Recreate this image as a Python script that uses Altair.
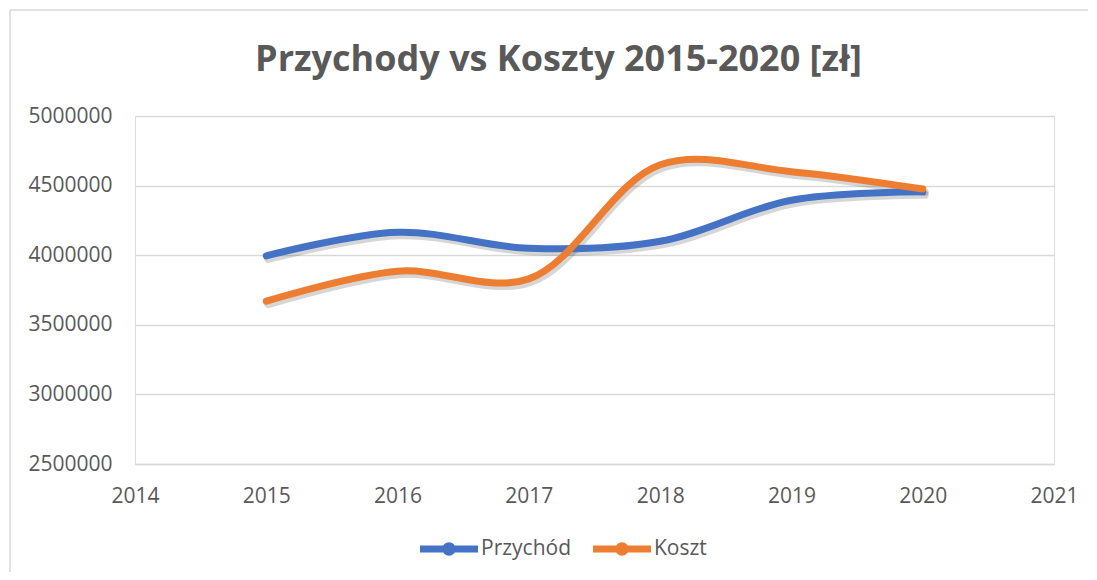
import altair as alt
import pandas as pd

years = [2015, 2016, 2017, 2018, 2019, 2020]
przychod = [3995000, 4165000, 4050000, 4100000, 4395000, 4455000]
koszt = [3670000, 3885000, 3830000, 4650000, 4600000, 4475000]
series = ["Przychód", "Koszt"]
colors = ["#4472C4", "#ED7D31"]
y_ticks = [2500000, 3000000, 3500000, 4000000, 4500000, 5000000]
x_ticks = [2014, 2015, 2016, 2017, 2018, 2019, 2020, 2021]

rows = []
for name, vals in zip(series, [przychod, koszt]):
    for yr, v in zip(years, vals):
        rows.append({"Rok": yr, "Wartość": v, "Seria": name})
df = pd.DataFrame(rows)

FONT = "Open Sans"
GREY = "#595959"
GRID = "#d9d9d9"

legend_path = ("M-1,-0.12 L1,-0.12 L1,0.12 L-1,0.12 Z "
               "M0.23,0 A0.23,0.23 0 1 1 -0.23,0 A0.23,0.23 0 1 1 0.23,0 Z")

x_enc = alt.X("Rok:Q",
              scale=alt.Scale(domain=[2014, 2021], nice=False, zero=False),
              axis=alt.Axis(values=x_ticks, format="d", title=None, grid=False,
                            domain=True, domainColor=GRID, domainWidth=1.5,
                            ticks=False, labelPadding=21, labelFontSize=21,
                            labelFlush=False, labelOverlap=False,
                            labelColor=GREY, labelFont=FONT))
y_enc = alt.Y("Wartość:Q",
              scale=alt.Scale(domain=[2500000, 5000000], nice=False, zero=False),
              axis=alt.Axis(values=y_ticks, format="d", title=None, grid=True,
                            gridColor=GRID, gridWidth=1.5, domain=False,
                            ticks=False, labelPadding=23, labelFontSize=21,
                            labelColor=GREY, labelFont=FONT))

one = pd.DataFrame({"a": [0]})
border_top = alt.Chart(one).mark_rule(color=GRID, strokeWidth=1.5).encode(
    x=alt.value(-125), x2=alt.value(953), y=alt.value(-106))
border_left = alt.Chart(one).mark_rule(color=GRID, strokeWidth=1.5).encode(
    x=alt.value(-125), y=alt.value(-106), y2=alt.value(480))

shadow = alt.Chart(df).mark_line(
    interpolate="catmull-rom", strokeWidth=8, color="#000000", opacity=0.16,
    xOffset=2, yOffset=3, strokeCap="round"
).encode(x=x_enc, y=y_enc, detail="Seria:N")

lines = alt.Chart(df).mark_line(
    interpolate="catmull-rom", strokeWidth=7, strokeCap="round"
).encode(
    x=x_enc, y=y_enc,
    stroke=alt.Stroke("Seria:N", scale=alt.Scale(domain=series, range=colors),
                      legend=None),
    order=alt.Order("Rok:Q"),
)

pts = alt.Chart(df).mark_point(filled=True, size=0, shape=legend_path).encode(
    x=x_enc, y=y_enc,
    color=alt.Color("Seria:N", scale=alt.Scale(domain=series, range=colors),
                    legend=alt.Legend(title=None, orient="none", direction="horizontal",
                                      legendX=285, legendY=404,
                                      symbolType=legend_path, symbolSize=3364,
                                      symbolStrokeWidth=0, symbolOpacity=1,
                                      labelFont=FONT, labelFontSize=21,
                                      labelColor=GREY, labelOffset=3,
                                      columnPadding=22, padding=0)),
)

chart = alt.layer(border_top, border_left, shadow, lines, pts).properties(
    width=919, height=348,
    title=alt.TitleParams("Przychody vs Koszty 2015-2020 [zł]", font=FONT,
                          fontSize=36, fontWeight="bold", color=GREY,
                          anchor="middle", baseline="alphabetic",
                          dx=-36, dy=98, offset=0),
    autosize=alt.AutoSizeParams(type="none"),
    padding={"left": 127, "top": 108, "right": 35, "bottom": 108},
).resolve_scale(color="independent", stroke="independent"
).configure_view(stroke=None).configure(background="white")

chart.save("out.html", embed_options={"renderer": "svg", "actions": False})
